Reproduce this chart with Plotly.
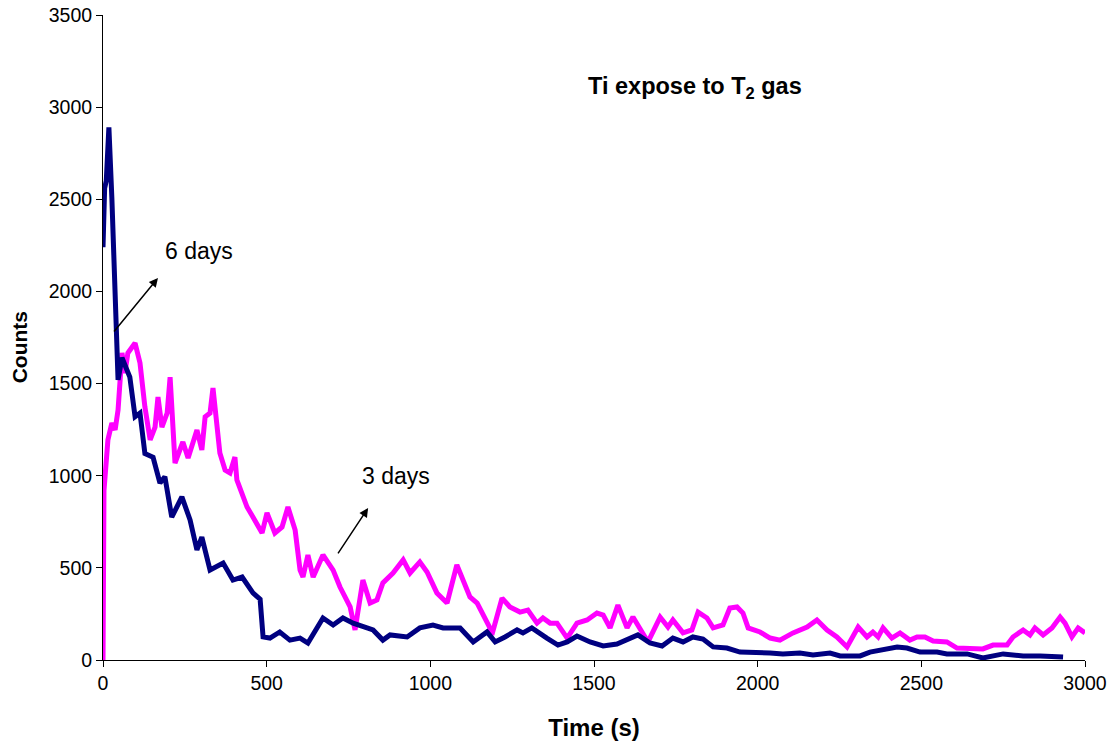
import plotly.graph_objects as go

# 6 days exposure (navy)
t6 = [0, 5, 10, 18, 27, 37, 43, 46, 58, 82, 98, 113, 128, 153, 174, 189, 210, 241, 266, 287,
      302, 327, 367, 397, 425, 458, 480, 489, 510, 540, 571, 602, 626, 672, 703, 733, 764, 807,
      825, 855, 877, 929, 968, 1008, 1039, 1091, 1131, 1173, 1198, 1228, 1265, 1283, 1310, 1356,
      1390, 1418, 1448, 1488, 1528, 1570, 1601, 1634, 1671, 1708, 1741, 1772, 1802, 1833, 1864,
      1906, 1946, 1998, 2038, 2077, 2129, 2169, 2221, 2252, 2313, 2343, 2383, 2426, 2456, 2496,
      2548, 2578, 2640, 2688, 2750, 2811, 2863, 2933]
c6 = [2240, 2560, 2600, 2890, 2510, 2025, 1775, 1520, 1640, 1535, 1320, 1340, 1120, 1100, 960, 995,
      775, 885, 760, 597, 667, 488, 526, 434, 450, 364, 330, 125, 119, 152, 108, 119, 92, 228, 190,
      228, 200, 174, 163, 108, 136, 125, 174, 190, 174, 174, 98, 152, 98, 125, 163, 147, 174, 119,
      81, 98, 130, 98, 76, 87, 108, 136, 92, 76, 119, 98, 125, 114, 71, 65, 43, 43, 38, 33, 38, 27,
      38, 22, 22, 43, 54, 71, 65, 43, 43, 33, 33, 11, 33, 22, 22, 16]

# 3 days exposure (magenta)
t3 = [0, 3, 15, 27, 37, 46, 58, 67, 76, 89, 98, 113, 128, 144, 159, 168, 180, 196, 205, 220, 244,
      260, 287, 302, 312, 327, 336, 357, 373, 388, 403, 409, 440, 458, 486, 501, 525, 547, 565, 587,
      602, 611, 626, 642, 672, 703, 724, 755, 770, 794, 816, 837, 855, 886, 917, 938, 968, 990, 1020,
      1051, 1081, 1121, 1143, 1182, 1188, 1219, 1243, 1274, 1298, 1326, 1344, 1366, 1387, 1418, 1448,
      1479, 1509, 1528, 1549, 1573, 1601, 1619, 1641, 1665, 1702, 1726, 1741, 1772, 1799, 1818, 1845,
      1864, 1894, 1915, 1937, 1955, 1971, 2007, 2038, 2068, 2108, 2151, 2181, 2212, 2242, 2273, 2307,
      2334, 2352, 2368, 2383, 2410, 2435, 2465, 2487, 2511, 2536, 2578, 2609, 2649, 2688, 2719, 2762,
      2780, 2811, 2832, 2847, 2872, 2899, 2924, 2939, 2960, 2979, 3000]
c3 = [0, 920, 1194, 1286, 1248, 1357, 1666, 1557, 1666, 1698, 1720, 1612, 1373, 1194, 1264, 1427,
      1264, 1340, 1535, 1069, 1183, 1096, 1248, 1140, 1320, 1340, 1476, 1123, 1031, 1015, 1101, 977,
      830, 776, 689, 798, 689, 722, 830, 705, 488, 450, 570, 450, 570, 488, 396, 288, 163, 434, 309,
      326, 418, 472, 543, 472, 532, 478, 364, 309, 516, 342, 309, 174, 136, 336, 288, 260, 271, 200,
      228, 200, 200, 119, 200, 217, 255, 244, 174, 298, 174, 233, 163, 98, 233, 179, 217, 147, 163,
      260, 228, 174, 190, 282, 288, 255, 174, 152, 119, 108, 147, 179, 217, 163, 125, 71, 179, 125,
      152, 125, 174, 119, 147, 108, 125, 125, 103, 98, 65, 60, 60, 81, 81, 125, 163, 136, 174, 136,
      174, 233, 200, 125, 174, 147]

FONT = "Liberation Sans, Arial, sans-serif"

fig = go.Figure()
fig.add_trace(go.Scatter(x=t3, y=c3, mode="lines", name="3 days",
                         line=dict(color="#FF00FF", width=5)))
fig.add_trace(go.Scatter(x=t6, y=c6, mode="lines", name="6 days",
                         line=dict(color="#000080", width=5)))

ann = [
    dict(text="<b>Ti expose to T<sub>2</sub> gas</b>", xref="paper", yref="paper",
         x=0.603, y=0.888, xanchor="center", yanchor="middle", showarrow=False,
         font=dict(family=FONT, size=23.5, color="black")),
    dict(text="<b>Counts</b>", xref="paper", yref="paper", x=-0.085, y=0.484,
         xanchor="center", yanchor="middle", textangle=-90, showarrow=False,
         font=dict(family=FONT, size=21, color="black")),
    dict(text="6 days", x=293, y=2219, xref="x", yref="y", showarrow=False,
         xanchor="center", yanchor="middle", font=dict(family=FONT, size=23, color="black")),
    dict(text="3 days", x=895, y=998, xref="x", yref="y", showarrow=False,
         xanchor="center", yanchor="middle", font=dict(family=FONT, size=23, color="black")),
    dict(text="", x=168, y=2073, ax=30, ay=1774, xref="x", yref="y", axref="x", ayref="y",
         showarrow=True, arrowhead=2, arrowsize=1.2, arrowwidth=1.5, arrowcolor="black", standoff=0),
    dict(text="", x=810, y=825, ax=715, ay=570, xref="x", yref="y", axref="x", ayref="y",
         showarrow=True, arrowhead=2, arrowsize=1.2, arrowwidth=1.5, arrowcolor="black", standoff=0),
]

fig.update_layout(
    width=1119, height=751,
    margin=dict(l=103, r=34, t=15, b=91, autoexpand=False),
    paper_bgcolor="white", plot_bgcolor="white",
    showlegend=False,
    font=dict(family=FONT, color="black"),
    annotations=ann,
    xaxis=dict(range=[0, 3000], dtick=500, tick0=0, showgrid=False, zeroline=False,
               showline=True, linecolor="black", linewidth=1, ticks="outside", ticklen=6,
               tickcolor="black", tickfont=dict(size=19.5), automargin=False,
               ticklabeloverflow="allow",
               title=dict(text="<b>Time (s)</b>", font=dict(size=24), standoff=25)),
    yaxis=dict(range=[0, 3500.01], dtick=500, tick0=0, showgrid=False, zeroline=False,
               showline=True, linecolor="black", linewidth=1, ticks="outside", ticklen=6,
               tickcolor="black", tickfont=dict(size=19.5), automargin=False,
               ticklabeloverflow="allow"),
)

fig.write_html("out.html", config={"displayModeBar": False},
               post_script="document.body.style.margin='0';document.body.style.overflow='hidden';")
